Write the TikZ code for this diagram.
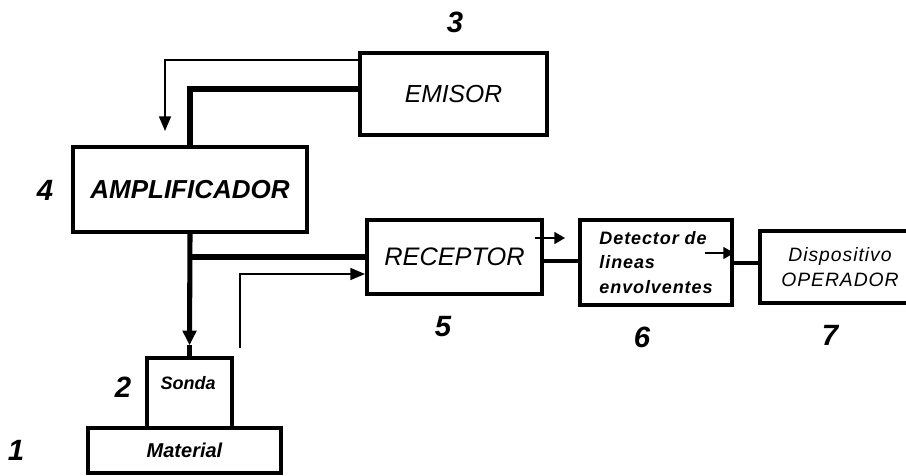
\documentclass[tikz,border=0pt]{standalone}
\usepackage{fontspec}
\setmainfont{Liberation Sans}
\newfontfamily\spaced[LetterSpace=5]{Liberation Sans}
\usetikzlibrary{arrows.meta}

\tikzset{
  box/.style={draw,line width=3pt,inner sep=0pt,align=center},
  thickline/.style={line width=3.8pt},
  midline/.style={line width=2.3pt},
  thinarrow/.style={line width=1.2pt,-{Triangle[length=11pt,width=9pt]}},
  smallarrow/.style={line width=1.2pt,-{Triangle[length=8pt,width=9pt]}},
  numlabel/.style={font=\fontsize{22}{24}\selectfont\bfseries\itshape},
}

\begin{document}
\begin{tikzpicture}[x=0.75pt,y=-0.75pt,line cap=butt,line join=miter]
  \clip (0,0) rectangle (906,475);

  % Blocks
  \node[box,minimum width=140.25pt,minimum height=61.5pt,
        font=\fontsize{18.5}{20}\selectfont\itshape] (emisor) at (453.5,94) {EMISOR};
  \node[box,minimum width=175.5pt,minimum height=63.75pt,
        font=\fontsize{19.5}{21}\selectfont\bfseries\itshape] (amp) at (190,189.5) {AMPLIFICADOR};
  \node[box,minimum width=131.25pt,minimum height=55.5pt,
        font=\fontsize{19}{21}\selectfont\itshape] (receptor) at (454.5,257) {RECEPTOR};
  \node[box,minimum width=114pt,minimum height=63.75pt,align=left,
        font=\spaced\fontsize{13.5}{18.5}\selectfont\bfseries\itshape] (detector) at (656,262.5)
        {Detector de\\lineas\\envolventes};
  \node[box,minimum width=120pt,minimum height=54pt,
        font=\spaced\fontsize{14.5}{18.5}\selectfont\itshape] (disp) at (840,267)
        {Dispositivo\\OPERADOR};
  \node[box,minimum width=63.75pt,minimum height=52.5pt] (sonda) at (189.5,393) {};
  \node[font=\fontsize{13.5}{15}\selectfont\bfseries\itshape] (sondatxt) at (188,383) {Sonda};
  \node[box,minimum width=144.75pt,minimum height=33.75pt,
        font=\fontsize{15}{17}\selectfont\bfseries\itshape] (material) at (184.5,450.5) {Material};

  % Numbers
  \node[numlabel] (n1) at (16,450) {1};
  \node[numlabel] (n2) at (123,387) {2};
  \node[numlabel] (n3) at (455,22) {3};
  \node[numlabel] (n4) at (45,190) {4};
  \node[numlabel] (n5) at (443,327) {5};
  \node[numlabel] (n6) at (642,337) {6};
  \node[numlabel] (n7) at (830,335) {7};

  % Free ends
  \coordinate (amptip) at (165,131);
  \coordinate (sondaout) at (240,348);
  \coordinate (recout) at (535,238);
  \coordinate (recouttip) at (565,238);
  \coordinate (detout) at (705,253);

  % Connections
  \draw[thinarrow] (emisor.west |- 0,60) -| (amptip);
  \draw[thickline] (emisor.west |- 0,89) -| (amp.north);
  \draw[thickline,-{Triangle[length=11pt,width=10pt]}] (amp.south) -- ([yshift=8pt]sonda.north);
  \draw[thickline] ([yshift=8.5pt]sonda.north) -- (sonda.north);
  \draw[thickline] (amp.south |- receptor.west) -- (receptor.west);
  \draw[thinarrow] (sondaout) |- (receptor.west |- 0,274);
  \draw[smallarrow] (recout) -- (recouttip);
  \draw[midline] (receptor.east |- 0,261) -- (detector.west |- 0,261);
  \draw[smallarrow] (detout) -- (detector.east |- 0,253);
  \draw[midline] (detector.east |- 0,263) -- (disp.west |- 0,263);
\end{tikzpicture}
\end{document}
